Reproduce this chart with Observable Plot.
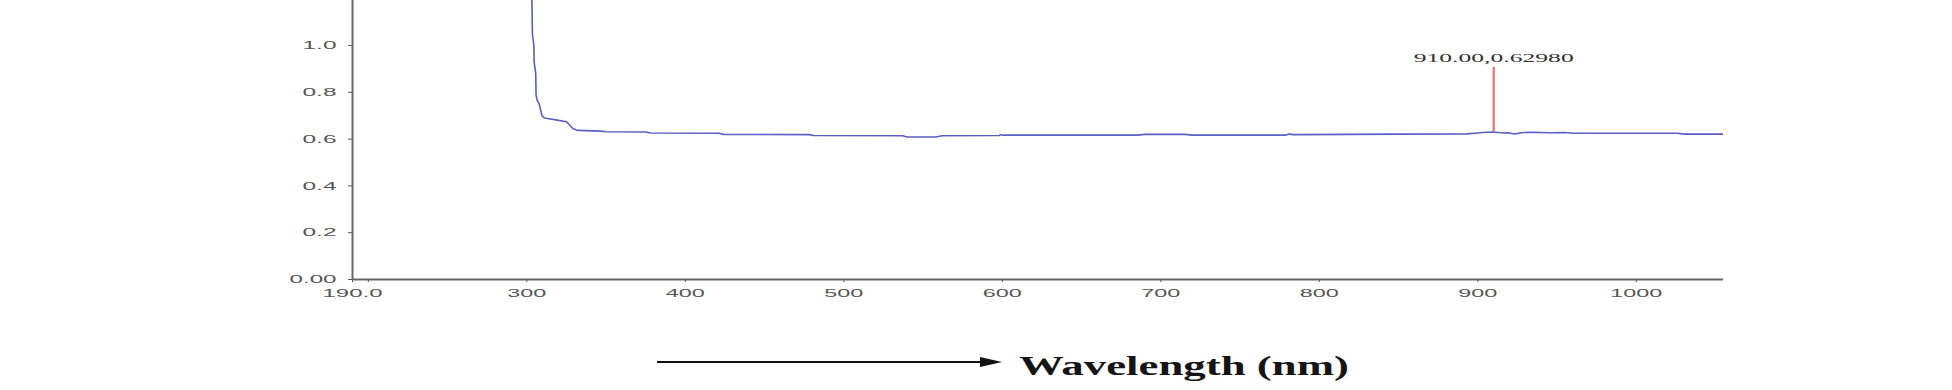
<!DOCTYPE html>
<html>
<head>
<meta charset="utf-8">
<script src="https://cdn.jsdelivr.net/npm/d3@7"></script>
<script src="https://cdn.jsdelivr.net/npm/@observablehq/plot@0.6"></script>
<style>
  html, body { margin: 0; padding: 0; background: #fff; }
  #wrap { width: 1952px; }
  #below { position: relative; width: 1952px; height: 80px; }
  #arrowLine { position: absolute; left: 657px; top: 51px; width: 325px; height: 0; border-top: 2px solid #111; }
  #arrowHead { position: absolute; left: 980px; top: 47px; width: 0; height: 0;
    border-top: 5px solid transparent; border-bottom: 5px solid transparent; border-left: 22px solid #111; }
  #xlabel { position: absolute; left: 1019px; top: 42px; font: bold 28px "Liberation Serif", "Times New Roman", serif;
    line-height: 28px; color: #151515; white-space: nowrap; transform-origin: 0 0; }
</style>
</head>
<body>
<div id="wrap">
  <div id="chart"></div>
  <div id="below">
    <div id="arrowLine"></div>
    <div id="arrowHead"></div>
    <span id="xlabel">Wavelength (nm)</span>
  </div>
</div>
<script>
// Spectrum (wavelength in nm, absorbance)
const wavelength = [300, 302.8, 303.2, 303.5, 304.4, 304.6, 305.6, 305.8, 306.5, 307.8, 309.5, 311, 314, 320, 325, 327, 329, 332,
  347, 350, 375, 378, 421, 424, 478, 481, 537, 540, 558, 562, 598, 599, 600, 602, 685, 690, 715, 720, 779, 781, 783, 785,
  851, 893, 900, 905, 910, 913, 916, 919, 923, 929, 935, 945, 955, 960, 1026, 1030, 1055];
const absorbance = [2.0, 1.5, 1.19, 1.05, 1.0, 0.93, 0.88, 0.79, 0.765, 0.75, 0.70, 0.69, 0.687, 0.68, 0.674, 0.66, 0.645, 0.637,
  0.634, 0.631, 0.630, 0.626, 0.625, 0.620, 0.619, 0.615, 0.614, 0.609, 0.609, 0.614, 0.615, 0.619, 0.616, 0.617, 0.617, 0.620, 0.620, 0.617, 0.617, 0.622, 0.619, 0.619,
  0.621, 0.622, 0.626, 0.629, 0.6298, 0.628, 0.626, 0.627, 0.622, 0.628, 0.629, 0.627, 0.628, 0.625, 0.625, 0.621, 0.621];

// Peak marker
const peakWavelength = [910];
const peakAbsorbance = [0.6298];
const peakLabel = ["910.00,0.62980"];

// Axis ticks
const xTicks = [190, 200, 300, 400, 500, 600, 700, 800, 900, 1000];
const xTickLabels = ["190.0", "", "300", "400", "500", "600", "700", "800", "900", "1000"];
const yTicks = [0, 0.2, 0.4, 0.6, 0.8, 1.0];
const yTickLabels = ["0.00", "0.2", "0.4", "0.6", "0.8", "1.0"];

const spectrum = wavelength.map((w, i) => ({w, a: absorbance[i]}));
const peaks = peakWavelength.map((w, i) => ({w, a: peakAbsorbance[i], label: peakLabel[i]}));

const chart = Plot.plot({
  width: 1952,
  height: 310,
  marginLeft: 352,
  marginRight: 229,
  marginTop: 0,
  marginBottom: 31,
  style: {background: "#fff", fontFamily: "'Liberation Sans', Arial, sans-serif", fontSize: "11.5px", color: "#555"},
  x: {domain: [190, 1055], ticks: xTicks, tickFormat: d => xTickLabels[xTicks.indexOf(d)], tickSize: 3, tickPadding: 6, label: null},
  y: {domain: [0, 1.192], ticks: yTicks, tickFormat: d => yTickLabels[yTicks.indexOf(d)], tickSize: 4, tickPadding: 12, label: null},
  marks: [
    Plot.ruleY([0], {stroke: "#666", strokeWidth: 2}),
    Plot.ruleX([190], {stroke: "#666", strokeWidth: 2}),
    Plot.line(spectrum, {x: "w", y: "a", stroke: "#5b5fc4", strokeWidth: 1.6, clip: true}),
    Plot.ruleX(peaks, {x: "w", y1: "a", y2: 0.906, stroke: "#e8706c", strokeWidth: 2.2}),
    Plot.text(peaks, {x: "w", y: 0.906, text: "label", dy: -9, fill: "#333",
      fontFamily: "'Liberation Serif', 'Times New Roman', serif", fontSize: 12})
  ]
});
document.getElementById("chart").appendChild(chart);

// Stretch the texts horizontally like the source picture
d3.select(chart).selectAll("text").each(function() {
  const t = this.textContent;
  if (!t) return;
  let len;
  if (t.includes(",")) len = 160;
  else len = [...t].reduce((s, c) => s + (c === "." ? 8 : 13), 0);
  d3.select(this).attr("textLength", len).attr("lengthAdjust", "spacingAndGlyphs");
});

const lab = document.getElementById("xlabel");
const w = lab.getBoundingClientRect().width;
lab.style.transform = `scaleX(${330 / w})`;
</script>
</body>
</html>
